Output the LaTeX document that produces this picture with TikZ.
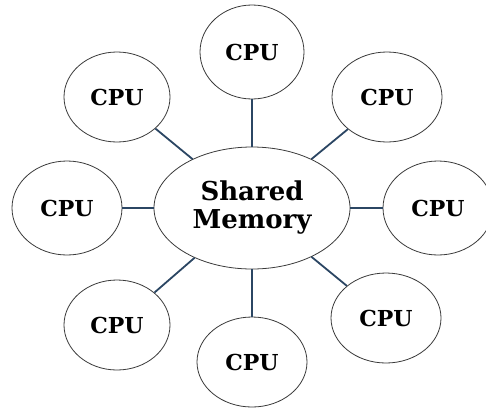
\documentclass[tikz,border=0pt]{standalone}
\usepackage{fontspec}
\setmainfont{DejaVu Serif}
\usetikzlibrary{shapes.geometric}
\definecolor{linkblue}{HTML}{2B4663}
\definecolor{rimgray}{HTML}{3A3A3A}
\begin{document}
\begin{tikzpicture}[x=1pt,y=-1pt,
  cpu/.style={ellipse,draw=rimgray,line width=0.8pt,fill=white,
    minimum width=#1,minimum height=90pt,inner sep=0pt,
    font=\bfseries\fontsize{22}{24}\selectfont},
  cpu/.default=106pt,
  memory/.style={ellipse,draw=rimgray,line width=0.8pt,fill=white,
    minimum width=196pt,minimum height=122pt,inner sep=0pt,align=center,
    font=\bfseries\fontsize{26}{28}\selectfont},
  link/.style={draw=linkblue,line width=1.8pt}]
\useasboundingbox (0,0) rectangle (486,407);
\node[memory] (mem) at (252,208) {Shared\\Memory};
\node[cpu=104pt,minimum height=94pt] (top) at (252,52) {CPU};
\node[cpu] (ul) at (117,97) {CPU};
\node[cpu=110pt] (ur) at (387,97) {CPU};
\node[cpu=110pt,minimum height=94pt] (l) at (67,208) {CPU};
\node[cpu=110pt,minimum height=94pt] (r) at (438,208) {CPU};
\node[cpu] (ll) at (117,325) {CPU};
\node[cpu=110pt] (lr) at (386,318) {CPU};
\node[cpu=110pt] (bot) at (252,362) {CPU};
\foreach \c in {top,ul,ur,l,r,ll,lr,bot}
  \draw[link] (mem) -- (\c);
\end{tikzpicture}
\end{document}
